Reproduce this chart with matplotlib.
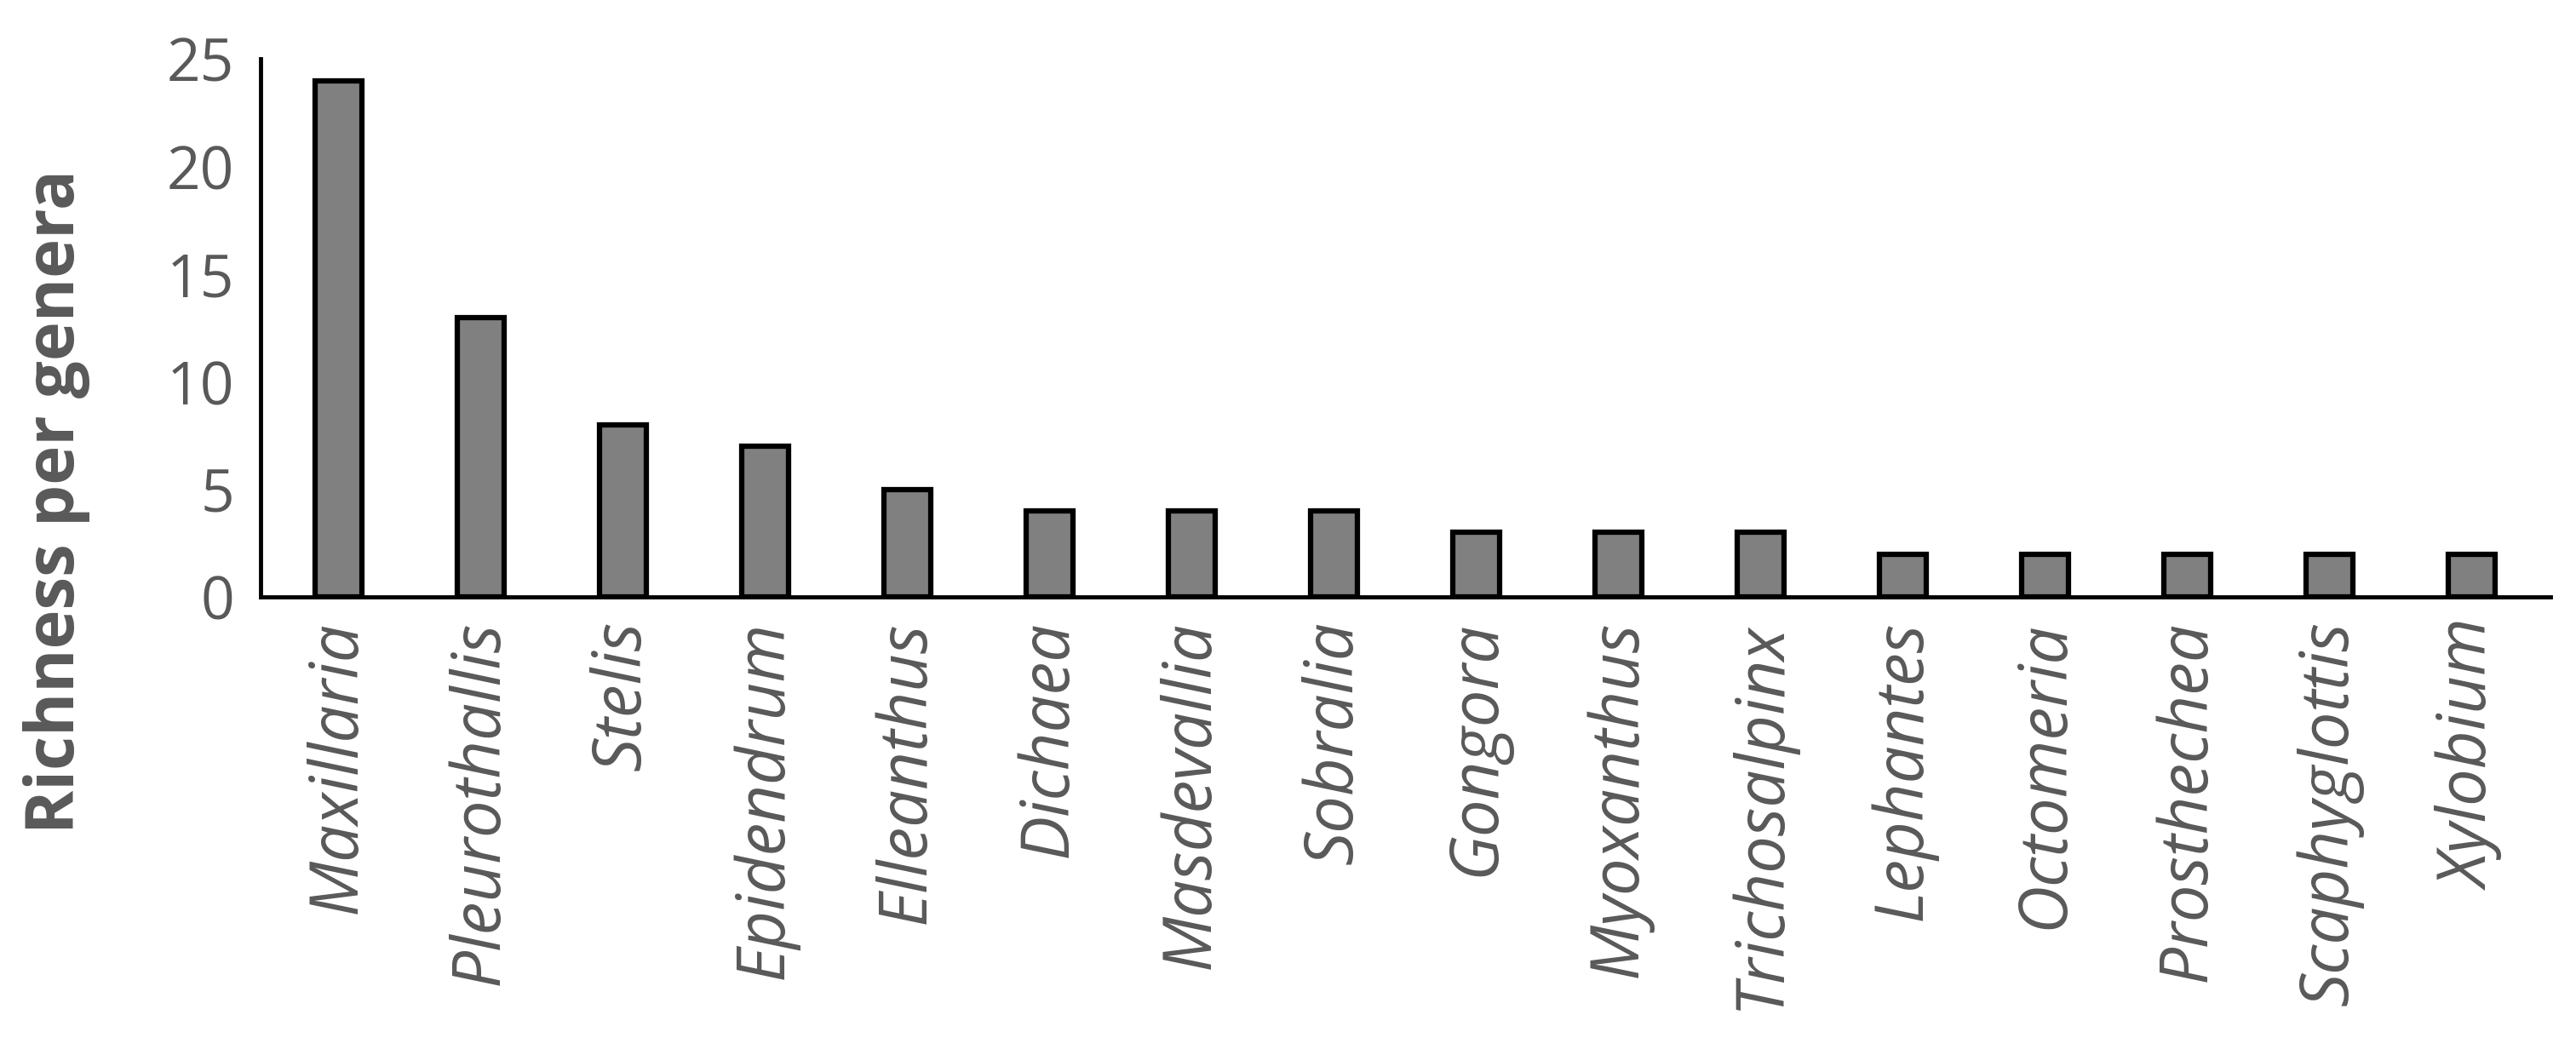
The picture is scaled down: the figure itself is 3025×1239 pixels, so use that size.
import matplotlib
matplotlib.use("Agg")
import matplotlib.pyplot as plt

genera = ["Maxillaria", "Pleurothallis", "Stelis", "Epidendrum", "Elleanthus", "Dichaea",
          "Masdevallia", "Sobralia", "Gongora", "Myoxanthus", "Trichosalpinx", "Lephantes",
          "Octomeria", "Prosthechea", "Scaphyglottis", "Xylobium"]
richness = [24, 13, 8, 7, 5, 4, 4, 4, 3, 3, 3, 2, 2, 2, 2, 2]
yticks = [0, 5, 10, 15, 20, 25]

plt.rcParams['font.family'] = ['Open Sans', 'DejaVu Sans']
fig = plt.figure(figsize=(30.25, 12.39), dpi=100)
ax = fig.add_axes([0.101, 0.434, 0.889, 0.51])
x = range(len(genera))
ax.bar(x, richness, width=0.33, color="#808080", edgecolor="black", linewidth=4.5, zorder=3)
ax.set_xlim(-0.55, len(genera) - 0.45)
ax.set_ylim(0, 25)
ax.set_yticks(yticks)
ax.set_yticklabels([str(v) for v in yticks], fontsize=50, color="#595959")
ax.set_xticks(list(x))
ax.set_xticklabels(genera, rotation=90, fontsize=56, color="#595959", style="italic")
ax.tick_params(axis="y", length=0, pad=22)
ax.tick_params(axis="x", length=0, pad=20)
for s in ["top", "right"]:
    ax.spines[s].set_visible(False)
for s in ["left", "bottom"]:
    ax.spines[s].set_linewidth(3.5)
fig.text(0.022, 0.525, "Richness per genera", fontsize=56, fontweight="bold", color="#595959",
         rotation=90, ha="center", va="center")
fig.savefig("out.png", dpi=100)
